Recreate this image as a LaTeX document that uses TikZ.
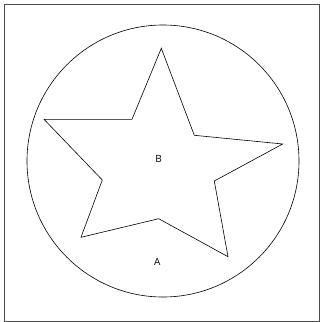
\documentclass[tikz,border=0pt]{standalone}
\usepackage{fontspec}
\setmainfont{Open Sans}
\usetikzlibrary{positioning}

\tikzset{
    region/.style={draw=black, line width=0.6pt},
    label text/.style={font=\fontsize{10}{11}\selectfont, inner sep=0pt},
}

\begin{document}
\begin{tikzpicture}[x=1pt, y=-1pt]
                    \useasboundingbox (0,0) rectangle (320,322);
                    \draw[draw=black!70, line width=0.8pt] (4.5,4.5) rectangle (319.5,321);

                    % outer region
                    \coordinate (o) at (163,161);
                    \draw[region] (o) circle [radius=136];

                    % star
                    \draw[region] (161.3,48.3) -- (194.3,135.3) -- (282.7,144)
                        -- (214.3,181) -- (228,256.7) -- (158.7,218.7)
                        -- (81,237.3) -- (102.3,180) -- (44,119.3)
                        -- (132,119.3) -- cycle;

                    \node[label text] (b) at (158.7,159) {B};
                    \node[label text] (a) at (157.3,261.7) {A};
\end{tikzpicture}
\end{document}
